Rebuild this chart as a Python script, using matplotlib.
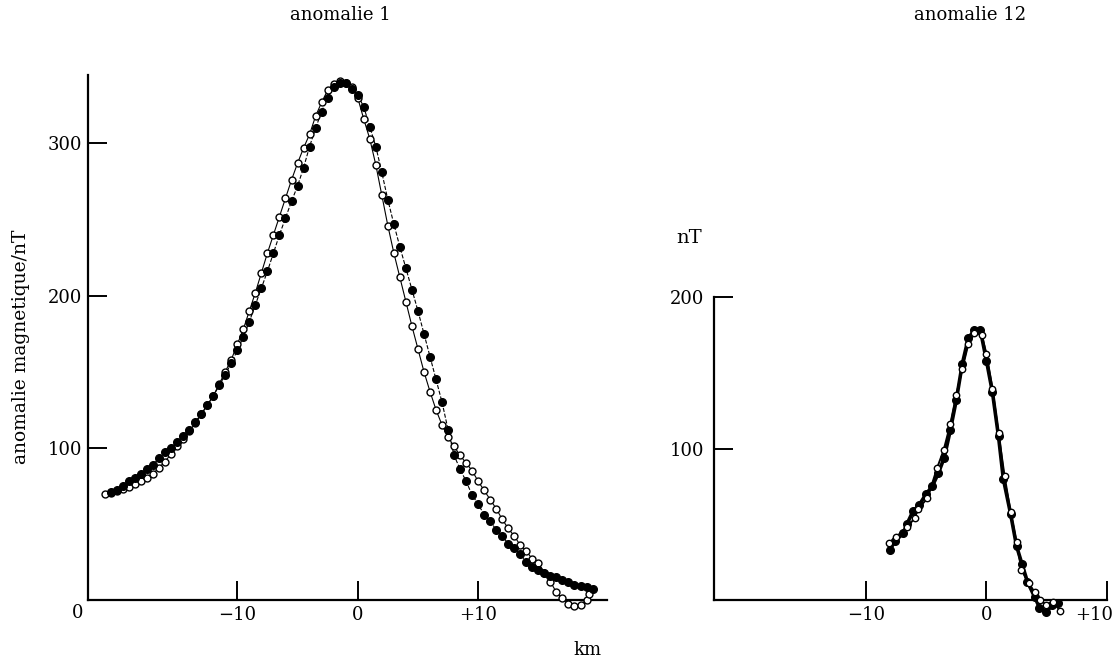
import numpy as np
import matplotlib
matplotlib.use("Agg")
import matplotlib.pyplot as plt
import matplotlib.transforms as mtransforms

plt.rcParams["font.family"] = ["DejaVu Serif"]

# ── anomalie 1 : filled dots (dashed) and open dots (solid) ───────────────────
a1_fill_x = [-20.5, -20.0, -19.5, -19.0, -18.5, -18.0, -17.5, -17.0, -16.5, -16.0,
             -15.5, -15.0, -14.5, -14.0, -13.5, -13.0, -12.5, -12.0, -11.5, -11.0,
             -10.5, -10.0, -9.5, -9.0, -8.5, -8.0, -7.5, -7.0, -6.5, -6.0,
             -5.5, -5.0, -4.5, -4.0, -3.5, -3.0, -2.5, -2.0, -1.5, -1.0,
             -0.5, 0.0, 0.5, 1.0, 1.5, 2.0, 2.5, 3.0, 3.5, 4.0,
             4.5, 5.0, 5.5, 6.0, 6.5, 7.0, 7.5, 8.0, 8.5, 9.0,
             9.5, 10.0, 10.5, 11.0, 11.5, 12.0, 12.5, 13.0, 13.5, 14.0,
             14.5, 15.0, 15.5, 16.0, 16.5, 17.0, 17.5, 18.0, 18.5, 19.0, 19.5]
a1_fill_y = [71, 72, 75, 78, 80, 83, 86, 89, 93, 97,
             100, 104, 108, 112, 117, 122, 128, 134, 141, 148,
             156, 164, 173, 183, 194, 205, 216, 228, 240, 251,
             262, 272, 284, 298, 310, 321, 330, 337, 340, 340,
             336, 332, 324, 311, 298, 281, 263, 247, 232, 218,
             204, 190, 175, 160, 145, 130, 112, 95, 86, 78,
             69, 63, 56, 52, 46, 42, 37, 34, 30, 25,
             22, 20, 18, 16, 15, 13, 12, 10, 9, 8.5, 7]

a1_open_x = [-21.0, -20.5, -20.0, -19.5, -19.0, -18.5, -18.0, -17.5, -17.0, -16.5,
             -16.0, -15.5, -15.0, -14.5, -14.0, -13.5, -13.0, -12.5, -12.0, -11.5,
             -11.0, -10.5, -10.0, -9.5, -9.0, -8.5, -8.0, -7.5, -7.0, -6.5,
             -6.0, -5.5, -5.0, -4.5, -4.0, -3.5, -3.0, -2.5, -2.0, -1.5,
             -1.0, -0.5, 0.0, 0.5, 1.0, 1.5, 2.0, 2.5, 3.0, 3.5,
             4.0, 4.5, 5.0, 5.5, 6.0, 6.5, 7.0, 7.5, 8.0, 8.5,
             9.0, 9.5, 10.0, 10.5, 11.0, 11.5, 12.0, 12.5, 13.0, 13.5,
             14.0, 14.5, 15.0, 15.5, 16.0, 16.5, 17.0, 17.5, 18.0, 18.5, 19.0, 19.2]
a1_open_y = [69.5, 70.5, 71.5, 73, 74.5, 76, 78, 80, 83, 87,
             91, 96, 101, 106, 111, 116, 122, 128, 134, 142,
             150, 158, 168, 178, 190, 202, 215, 228, 240, 252,
             264, 276, 287, 297, 306, 318, 327, 335, 339, 341,
             340, 337, 330, 316, 303, 286, 266, 246, 228, 212,
             196, 180, 165, 150, 137, 125, 115, 107, 101, 95,
             90, 85, 78, 72, 66, 60, 53, 47, 42, 36,
             32, 27, 24, 18, 12, 5, 1, -2.5, -4, -3, 0, 4]

# ── anomalie 12 ──────────────────────────────────────────────────────────────
a12_fill_x = [-8.0, -7.6, -6.9, -6.6, -6.1, -5.6, -5.0, -4.5, -4.0, -3.5,
              -3.0, -2.5, -2.0, -1.5, -1.0, -0.5, 0.0, 0.5, 1.0, 1.4,
              2.0, 2.5, 2.95, 3.4, 4.0, 4.4, 4.95, 5.45, 5.95]
a12_fill_y = [33, 39, 44, 50, 58.5, 62.5, 70, 75, 83.5, 94,
              112, 132, 156, 173, 178, 178, 158, 137, 108, 80,
              57, 35.5, 23.7, 12, 2, -5, -8, -3.5, -2]

a12_open_x = [-8.1, -7.5, -6.6, -5.95, -5.7, -4.9, -4.1, -3.55, -3.0, -2.5,
              -2.0, -1.5, -1.0, -0.4, 0.0, 0.5, 1.0, 1.5, 2.0, 2.5,
              2.9, 3.5, 4.0, 4.45, 4.95, 5.5, 6.1]
a12_open_y = [37.5, 41.6, 48, 54, 60, 67, 87, 99, 116, 135.5,
              152.6, 169, 176, 175, 162.5, 139.5, 110, 82, 58, 38,
              20, 11, 5.3, 0, -3, -1, -7]

x_ticks = [-10, 0, 10]
x_tick_labels = ["\u221210", "0", "+10"]

W, H = 1119, 663
fig = plt.figure(figsize=(W / 100, H / 100), dpi=100)

def px_box(left, right, top, bottom):
    return [left / W, (H - bottom) / H, (right - left) / W, (bottom - top) / H]

def style_axes(ax):
    for s in ["top", "right"]:
        ax.spines[s].set_visible(False)
    for s in ["left", "bottom"]:
        ax.spines[s].set_linewidth(1.6)
    ax.tick_params(direction="in", length=13.5, width=1.4, labelsize=13)
    ax.set_xticks(x_ticks)
    ax.set_xticklabels(x_tick_labels)
    ax.tick_params(axis="x", pad=4)

# ── left panel ───────────────────────────────────────────────────────────────
ax1 = fig.add_axes(px_box(88, 607, 75, 600))
ax1.set_xlim(-22.4, 20.7)
ax1.set_ylim(0, 345)
style_axes(ax1)
ax1.set_yticks([100, 200, 300])
ax1.tick_params(axis="y", pad=4)

ax1.plot(a1_open_x, a1_open_y, "-", color="black", lw=0.8, clip_on=False, zorder=2)
ax1.plot(a1_fill_x, a1_fill_y, "--", color="black", lw=0.8, clip_on=False, zorder=2)
ax1.plot(a1_open_x, a1_open_y, "o", ms=5, mfc="white", mec="black", mew=1.0,
         clip_on=False, zorder=3)
ax1.plot(a1_fill_x, a1_fill_y, "o", ms=5.5, mfc="black", mec="black",
         clip_on=False, zorder=4)

ax1.text(-23.3, -8.5, "0", fontsize=13, ha="center", va="center")
ax1.set_ylabel("anomalie magnetique/nT", fontsize=13.5)
ax1.yaxis.set_label_coords(-58 / 519, 0.482)
fig.text(340 / W, 1 - 15 / H, "anomalie 1", fontsize=13, ha="center", va="center")
fig.text(587 / W, 1 - 650 / H, "km", fontsize=13, ha="center", va="center")

# ── right panel ──────────────────────────────────────────────────────────────
ax2 = fig.add_axes(px_box(714, 1107, 297, 600))
ax2.set_xlim(-22.6, 10)
ax2.set_ylim(0, 200)
style_axes(ax2)
ax2.set_yticks([100, 200])
ax2.tick_params(axis="y", pad=7)
# last tick label sits at the page edge, nudge it inward
lbl = ax2.get_xticklabels()[-1]
lbl.set_transform(lbl.get_transform() + mtransforms.ScaledTranslation(-0.13, 0, fig.dpi_scale_trans))

ax2.plot(a12_fill_x, a12_fill_y, "-", color="black", lw=2.6, clip_on=False, zorder=2)
ax2.plot(a12_open_x, a12_open_y, "-", color="black", lw=1.4, clip_on=False, zorder=2)
ax2.plot(a12_fill_x, a12_fill_y, "o", ms=5.5, mfc="black", mec="black",
         clip_on=False, zorder=3)
ax2.plot(a12_open_x, a12_open_y, "o", ms=4.6, mfc="white", mec="black", mew=1.0,
         clip_on=False, zorder=4)

fig.text(689 / W, 1 - 238 / H, "nT", fontsize=14, ha="center", va="center")
fig.text(970 / W, 1 - 15 / H, "anomalie 12", fontsize=13, ha="center", va="center")

fig.savefig("out.png", dpi=100)
